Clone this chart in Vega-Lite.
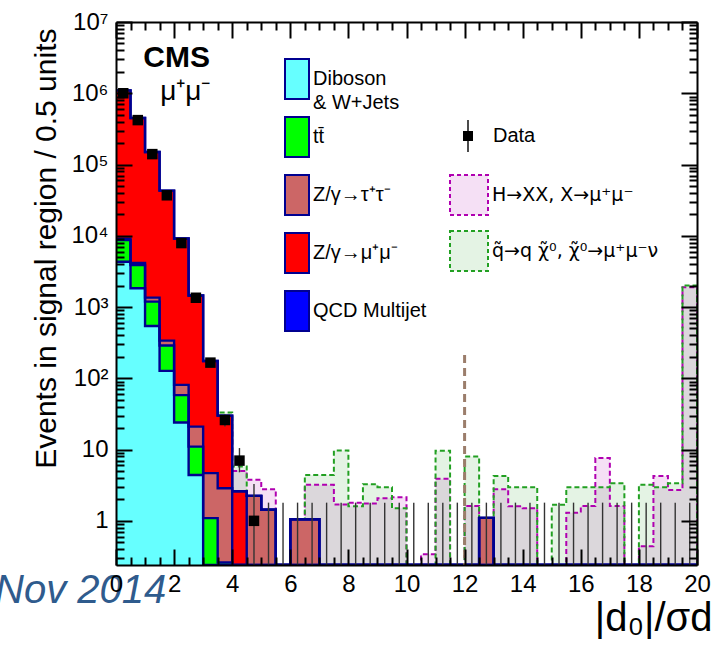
{
  "$schema": "https://vega.github.io/schema/vega-lite/v6.json",
  "width": 581,
  "height": 543,
  "autosize": {"type": "none"},
  "padding": {"left": 116, "top": 22, "right": 24, "bottom": 83},
  "background": "white",
  "config": {
    "font": "Liberation Sans",
    "view": {"stroke": null},
    "axis": {"zindex": 1, "grid": false, "tickColor": "black", "domainColor": "black", "labelColor": "black", "titleColor": "black"}
  },
  "title": {"text": "Nov 2014", "orient": "bottom", "anchor": "start", "frame": "group", "font": "Liberation Sans", "fontStyle": "italic", "fontWeight": "normal", "fontSize": 40, "color": "#2f5b8d", "dx": -121, "dy": -35, "baseline": "alphabetic", "offset": 0},
  "datasets": {
    "bins": [
      {"x": 0, "a_dib": 4330, "b_tt": 4370, "c_ztt": 400, "d_zmm": 1090000, "e_qcd": 0, "H": 0, "S": 0, "n": 1000000, "nlo": 999000, "nhi": 1001000},
      {"x": 0.5, "a_dib": 1840, "b_tt": 2060, "c_ztt": 250, "d_zmm": 446000, "e_qcd": 0, "H": 0, "S": 0, "n": 420000, "nlo": 419350, "nhi": 420650},
      {"x": 1, "a_dib": 543, "b_tt": 650, "c_ztt": 165, "d_zmm": 148600, "e_qcd": 0, "H": 0, "S": 0, "n": 140000, "nlo": 139630, "nhi": 140370},
      {"x": 1.5, "a_dib": 127, "b_tt": 161, "c_ztt": 50, "d_zmm": 42700, "e_qcd": 0, "H": 0, "S": 0, "n": 37000, "nlo": 36810, "nhi": 37190},
      {"x": 2, "a_dib": 24, "b_tt": 34, "c_ztt": 23, "d_zmm": 9100, "e_qcd": 0, "H": 0, "S": 0, "n": 7900, "nlo": 7810, "nhi": 7990},
      {"x": 2.5, "a_dib": 4.4, "b_tt": 6.6, "c_ztt": 10, "d_zmm": 1430, "e_qcd": 0, "H": 0, "S": 0, "n": 1350, "nlo": 1313, "nhi": 1387},
      {"x": 3, "a_dib": 0, "b_tt": 1.09, "c_ztt": 3.58, "d_zmm": 170, "e_qcd": 0, "H": 0, "S": 0, "n": 166, "nlo": 153, "nhi": 179},
      {"x": 3.5, "a_dib": 0, "b_tt": 0.26, "c_ztt": 2.61, "d_zmm": 27.1, "e_qcd": 0, "H": 20, "S": 33, "n": 26, "nlo": 21, "nhi": 31},
      {"x": 4, "a_dib": 0, "b_tt": 0, "c_ztt": 0, "d_zmm": 2.6, "e_qcd": 0, "H": 5, "S": 5.8, "n": 7, "nlo": 4.8, "nhi": 10.5},
      {"x": 4.5, "a_dib": 0, "b_tt": 0, "c_ztt": 2.24, "d_zmm": 0, "e_qcd": 0, "H": 3.76, "S": 1.6, "n": 1, "nlo": 0.17, "nhi": 3.3},
      {"x": 5, "a_dib": 0, "b_tt": 0, "c_ztt": 1.43, "d_zmm": 0, "e_qcd": 0, "H": 2.78, "S": 1.2, "n": 0, "nlo": 0, "nhi": 1.8},
      {"x": 5.5, "a_dib": 0, "b_tt": 0, "c_ztt": 0, "d_zmm": 0, "e_qcd": 0, "H": 0, "S": 0, "n": 0, "nlo": 0, "nhi": 1.8},
      {"x": 6, "a_dib": 0, "b_tt": 0, "c_ztt": 1.05, "d_zmm": 0, "e_qcd": 0, "H": 0.8, "S": 0.8, "n": 0, "nlo": 0, "nhi": 1.8},
      {"x": 6.5, "a_dib": 0, "b_tt": 0, "c_ztt": 1.05, "d_zmm": 0, "e_qcd": 0, "H": 3.2, "S": 4.4, "n": 0, "nlo": 0, "nhi": 1.8},
      {"x": 7, "a_dib": 0, "b_tt": 0, "c_ztt": 0, "d_zmm": 0, "e_qcd": 0, "H": 3.2, "S": 4.4, "n": 0, "nlo": 0, "nhi": 1.8},
      {"x": 7.5, "a_dib": 0, "b_tt": 0, "c_ztt": 0, "d_zmm": 0, "e_qcd": 0, "H": 1.7, "S": 9.7, "n": 0, "nlo": 0, "nhi": 1.8},
      {"x": 8, "a_dib": 0, "b_tt": 0, "c_ztt": 0, "d_zmm": 0, "e_qcd": 0, "H": 1.8, "S": 1.6, "n": 0, "nlo": 0, "nhi": 1.8},
      {"x": 8.5, "a_dib": 0, "b_tt": 0, "c_ztt": 0, "d_zmm": 0, "e_qcd": 0, "H": 1.75, "S": 3.27, "n": 0, "nlo": 0, "nhi": 1.8},
      {"x": 9, "a_dib": 0, "b_tt": 0, "c_ztt": 0, "d_zmm": 0, "e_qcd": 0, "H": 2.08, "S": 2.97, "n": 0, "nlo": 0, "nhi": 1.8},
      {"x": 9.5, "a_dib": 0, "b_tt": 0, "c_ztt": 0, "d_zmm": 0, "e_qcd": 0, "H": 2.15, "S": 1.5, "n": 0, "nlo": 0, "nhi": 1.8},
      {"x": 10, "a_dib": 0, "b_tt": 0, "c_ztt": 0, "d_zmm": 0, "e_qcd": 0, "H": 0, "S": 0, "n": 0, "nlo": 0, "nhi": 1.8},
      {"x": 10.5, "a_dib": 0, "b_tt": 0, "c_ztt": 0, "d_zmm": 0, "e_qcd": 0, "H": 0.34, "S": 0, "n": 0, "nlo": 0, "nhi": 1.8},
      {"x": 11, "a_dib": 0, "b_tt": 0, "c_ztt": 0, "d_zmm": 0, "e_qcd": 0, "H": 3.88, "S": 9.6, "n": 0, "nlo": 0, "nhi": 1.8},
      {"x": 11.5, "a_dib": 0, "b_tt": 0, "c_ztt": 0, "d_zmm": 0, "e_qcd": 0, "H": 0, "S": 0, "n": 0, "nlo": 0, "nhi": 1.8},
      {"x": 12, "a_dib": 0, "b_tt": 0, "c_ztt": 0, "d_zmm": 0, "e_qcd": 0, "H": 1.62, "S": 8.0, "n": 0, "nlo": 0, "nhi": 1.8},
      {"x": 12.5, "a_dib": 0, "b_tt": 0, "c_ztt": 1.1, "d_zmm": 0, "e_qcd": 0, "H": 0.9, "S": 0.9, "n": 0, "nlo": 0, "nhi": 1.8},
      {"x": 13, "a_dib": 0, "b_tt": 0, "c_ztt": 0, "d_zmm": 0, "e_qcd": 0, "H": 2.78, "S": 4.27, "n": 0, "nlo": 0, "nhi": 1.8},
      {"x": 13.5, "a_dib": 0, "b_tt": 0, "c_ztt": 0, "d_zmm": 0, "e_qcd": 0, "H": 1.6, "S": 2.97, "n": 0, "nlo": 0, "nhi": 1.8},
      {"x": 14, "a_dib": 0, "b_tt": 0, "c_ztt": 0, "d_zmm": 0, "e_qcd": 0, "H": 1.5, "S": 2.97, "n": 0, "nlo": 0, "nhi": 1.8},
      {"x": 14.5, "a_dib": 0, "b_tt": 0, "c_ztt": 0, "d_zmm": 0, "e_qcd": 0, "H": 0, "S": 0, "n": 0, "nlo": 0, "nhi": 1.8},
      {"x": 15, "a_dib": 0, "b_tt": 0, "c_ztt": 0, "d_zmm": 0, "e_qcd": 0, "H": 0, "S": 1.68, "n": 0, "nlo": 0, "nhi": 1.8},
      {"x": 15.5, "a_dib": 0, "b_tt": 0, "c_ztt": 0, "d_zmm": 0, "e_qcd": 0, "H": 1.3, "S": 2.97, "n": 0, "nlo": 0, "nhi": 1.8},
      {"x": 16, "a_dib": 0, "b_tt": 0, "c_ztt": 0, "d_zmm": 0, "e_qcd": 0, "H": 1.61, "S": 2.97, "n": 0, "nlo": 0, "nhi": 1.8},
      {"x": 16.5, "a_dib": 0, "b_tt": 0, "c_ztt": 0, "d_zmm": 0, "e_qcd": 0, "H": 7.6, "S": 2.97, "n": 0, "nlo": 0, "nhi": 1.8},
      {"x": 17, "a_dib": 0, "b_tt": 0, "c_ztt": 0, "d_zmm": 0, "e_qcd": 0, "H": 1.62, "S": 3.38, "n": 0, "nlo": 0, "nhi": 1.8},
      {"x": 17.5, "a_dib": 0, "b_tt": 0, "c_ztt": 0, "d_zmm": 0, "e_qcd": 0, "H": 0, "S": 0, "n": 0, "nlo": 0, "nhi": 1.8},
      {"x": 18, "a_dib": 0, "b_tt": 0, "c_ztt": 0, "d_zmm": 0, "e_qcd": 0, "H": 0.44, "S": 3.2, "n": 0, "nlo": 0, "nhi": 1.8},
      {"x": 18.5, "a_dib": 0, "b_tt": 0, "c_ztt": 0, "d_zmm": 0, "e_qcd": 0, "H": 4.27, "S": 2.97, "n": 0, "nlo": 0, "nhi": 1.8},
      {"x": 19, "a_dib": 0, "b_tt": 0, "c_ztt": 0, "d_zmm": 0, "e_qcd": 0, "H": 2.7, "S": 3.38, "n": 0, "nlo": 0, "nhi": 1.8},
      {"x": 19.5, "a_dib": 0, "b_tt": 0, "c_ztt": 0, "d_zmm": 0, "e_qcd": 0, "H": 1900, "S": 2000, "n": 0, "nlo": 0, "nhi": 1.8},
      {"x": 20, "a_dib": 0, "b_tt": 0, "c_ztt": 0, "d_zmm": 0, "e_qcd": 0, "H": 0, "S": 0, "n": 0, "nlo": 0, "nhi": 0}
    ],
    "cut": [{"cut": 12, "top": 213}],
    "one": [{"label": "anchor"}]
  },
  "layer": [
    {
      "data": {"name": "bins"},
      "mark": {"type": "area", "interpolate": "step-after", "clip": true, "fill": "#b000b0", "fillOpacity": 0.12, "invalid": null},
      "encoding": {
        "x": {"field": "x", "type": "quantitative", "scale": {"type": "linear", "domain": [0, 20], "nice": false, "zero": false},
              "axis": {"orient": "top", "values": [0, 2, 4, 6, 8, 10, 12, 14, 16, 18, 20], "tickSize": -16, "tickWidth": 2, "labels": false, "domain": true, "domainWidth": 2, "title": null, "zindex": 1}},
        "y": {"field": "H", "type": "quantitative", "stack": null, "scale": {"type": "log", "domain": [0.24, 10000000], "nice": false, "clamp": true},
              "axis": {"orient": "right", "values": [1, 10, 100, 1000, 10000, 100000, 1000000, 10000000], "tickSize": -16, "tickWidth": 2, "labels": false, "domain": true, "domainWidth": 2, "title": null, "zindex": 1}}
      }
    },
    {
      "data": {"name": "bins"},
      "mark": {"type": "area", "interpolate": "step-after", "clip": true, "fill": "#22a022", "fillOpacity": 0.12, "invalid": null},
      "encoding": {
        "x": {"field": "x", "type": "quantitative", "scale": {"type": "linear", "domain": [0, 20], "nice": false, "zero": false}, "axis": null},
        "y": {"field": "S", "type": "quantitative", "stack": null, "scale": {"type": "log", "domain": [0.24, 10000000], "nice": false, "clamp": true}, "axis": null}
      }
    },
    {
      "data": {"name": "bins"},
      "mark": {"type": "line", "interpolate": "step-after", "clip": true, "strokeWidth": 2, "strokeDash": [5, 3], "invalid": null},
      "encoding": {
        "x": {"field": "x", "type": "quantitative", "scale": {"type": "linear", "domain": [0, 20], "nice": false, "zero": false},
              "axis": {"orient": "top", "values": [0.5, 1, 1.5, 2.5, 3, 3.5, 4.5, 5, 5.5, 6.5, 7, 7.5, 8.5, 9, 9.5, 10.5, 11, 11.5, 12.5, 13, 13.5, 14.5, 15, 15.5, 16.5, 17, 17.5, 18.5, 19, 19.5], "tickSize": -8, "tickWidth": 2, "labels": false, "domain": false, "title": null, "zindex": 1}},
        "y": {"field": "H", "type": "quantitative", "stack": null, "scale": {"type": "log", "domain": [0.24, 10000000], "nice": false, "clamp": true},
              "axis": {"orient": "right", "values": [0.3, 0.4, 0.5, 0.6, 0.7, 0.8, 0.9, 2, 3, 4, 5, 6, 7, 8, 9, 20, 30, 40, 50, 60, 70, 80, 90, 200, 300, 400, 500, 600, 700, 800, 900, 2000, 3000, 4000, 5000, 6000, 7000, 8000, 9000, 20000, 30000, 40000, 50000, 60000, 70000, 80000, 90000, 200000, 300000, 400000, 500000, 600000, 700000, 800000, 900000, 2000000, 3000000, 4000000, 5000000, 6000000, 7000000, 8000000, 9000000], "tickSize": -8, "tickWidth": 2, "labels": false, "domain": false, "title": null, "zindex": 1}},
        "stroke": {"datum": "H→XX, X→μ⁺μ⁻", "scale": {"domain": ["H→XX, X→μ⁺μ⁻", "q̃→q χ̃⁰, χ̃⁰→μ⁺μ⁻ν"], "range": ["#b000b0", "#22a022"]},
                   "legend": {"title": null, "orient": "none", "legendX": 332, "legendY": 152, "symbolType": "M-0.95,-1H0.95V1H-0.95Z", "symbolSize": 1600, "symbolStrokeWidth": 2, "symbolDash": [4, 3], "labelFontSize": 19, "labelFont": "DejaVu Sans", "labelColor": "black", "labelOffset": 2, "rowPadding": 8, "labelLimit": 400, "padding": 0,
                              "encode": {"symbols": {"update": {"fill": {"scale": "stroke", "field": "value"}, "fillOpacity": {"value": 0.12}}}}}}
      }
    },
    {
      "data": {"name": "bins"},
      "mark": {"type": "line", "interpolate": "step-after", "clip": true, "strokeWidth": 2, "strokeDash": [5, 3], "invalid": null},
      "encoding": {
        "x": {"field": "x", "type": "quantitative", "scale": {"type": "linear", "domain": [0, 20], "nice": false, "zero": false}, "axis": null},
        "y": {"field": "S", "type": "quantitative", "stack": null, "scale": {"type": "log", "domain": [0.24, 10000000], "nice": false, "clamp": true}, "axis": null},
        "stroke": {"datum": "q̃→q χ̃⁰, χ̃⁰→μ⁺μ⁻ν", "scale": {"domain": ["H→XX, X→μ⁺μ⁻", "q̃→q χ̃⁰, χ̃⁰→μ⁺μ⁻ν"], "range": ["#b000b0", "#22a022"]}}
      }
    },
    {
      "data": {"name": "bins"},
      "transform": [
        {"fold": ["a_dib", "b_tt", "c_ztt", "d_zmm", "e_qcd"], "as": ["proc", "v"]},
        {"stack": "v", "groupby": ["x"], "sort": [{"field": "proc", "order": "ascending"}], "as": ["lo", "hi"]}
      ],
      "mark": {"type": "area", "interpolate": "step-after", "clip": true, "opacity": 1, "invalid": null},
      "encoding": {
        "x": {"field": "x", "type": "quantitative", "scale": {"type": "linear", "domain": [0, 20], "nice": false, "zero": false},
              "axis": {"orient": "bottom", "values": [0, 2, 4, 6, 8, 10, 12, 14, 16, 18, 20], "tickSize": -16, "tickWidth": 2, "domain": true, "domainWidth": 2, "labelFontSize": 24, "labelFont": "Liberation Sans", "labelPadding": 23, "labelFlush": false, "labelOverlap": false, "labelBound": false,
                       "title": "|d₀|/σd", "titleFont": "Liberation Sans", "titleFontSize": 40, "titleFontWeight": "normal", "titleAlign": "right", "titleAnchor": "end", "titleX": 596, "titleY": 65, "titleBaseline": "alphabetic", "zindex": 1}},
        "y": {"field": "hi", "type": "quantitative", "stack": null, "scale": {"type": "log", "domain": [0.24, 10000000], "nice": false, "clamp": true},
              "axis": {"orient": "left", "values": [1, 10, 100, 1000, 10000, 100000, 1000000, 10000000], "tickSize": -16, "tickWidth": 2, "domain": true, "domainWidth": 2, "labelFontSize": 24, "labelFont": "Liberation Sans", "labelPadding": 24, "labelFlush": false, "labelOverlap": false, "labelBound": false,
                       "labelExpr": "datum.value < 5 ? '1' : datum.value < 50 ? '10' : datum.value < 500 ? '10²' : datum.value < 5000 ? '10³' : datum.value < 50000 ? '10⁴' : datum.value < 500000 ? '10⁵' : datum.value < 5000000 ? '10⁶' : '10⁷'",
                       "title": "Events in signal region / 0.5 units", "titleFont": "Liberation Sans", "titleFontSize": 30, "titleFontWeight": "normal", "titleAngle": 270, "titleAlign": "right", "titleX": -61, "titleY": 6, "titleBaseline": "alphabetic", "zindex": 1}},
        "y2": {"field": "lo"},
        "fill": {"field": "proc", "type": "nominal",
                 "scale": {"domain": ["a_dib", "b_tt", "c_ztt", "d_zmm", "e_qcd"], "range": ["#66ffff", "#00ff00", "#cc6666", "#ff0000", "#0000ff"]},
                 "legend": {"title": null, "orient": "none", "legendX": 160, "legendY": 36, "symbolType": "M-0.6,-1H0.6V1H-0.6Z", "symbolSize": 1600, "symbolStrokeColor": "#000090", "symbolStrokeWidth": 2, "symbolOpacity": 1, "labelFontSize": 20, "labelFont": "Liberation Sans", "labelColor": "black", "labelOffset": -5, "rowPadding": 0, "gridAlign": "all", "labelLimit": 400, "padding": 0,
                            "labelExpr": "datum.value == 'a_dib' ? ['Diboson', '& W+Jets'] : datum.value == 'b_tt' ? 'tt̄' : datum.value == 'c_ztt' ? 'Z/γ→τ⁺τ⁻' : datum.value == 'd_zmm' ? 'Z/γ→μ⁺μ⁻' : 'QCD Multijet'",
                            "encode": {"labels": {"update": {"lineHeight": {"value": 24}}}}}}
      }
    },
    {
      "data": {"name": "bins"},
      "transform": [
        {"fold": ["a_dib", "b_tt", "c_ztt", "d_zmm", "e_qcd"], "as": ["proc", "v"]},
        {"stack": "v", "groupby": ["x"], "sort": [{"field": "proc", "order": "ascending"}], "as": ["lo", "hi"]}
      ],
      "mark": {"type": "line", "interpolate": "step-after", "clip": true, "stroke": "#000090", "strokeWidth": 2.4, "invalid": null},
      "encoding": {
        "x": {"field": "x", "type": "quantitative", "scale": {"type": "linear", "domain": [0, 20], "nice": false, "zero": false},
              "axis": {"orient": "bottom", "values": [0.5, 1, 1.5, 2.5, 3, 3.5, 4.5, 5, 5.5, 6.5, 7, 7.5, 8.5, 9, 9.5, 10.5, 11, 11.5, 12.5, 13, 13.5, 14.5, 15, 15.5, 16.5, 17, 17.5, 18.5, 19, 19.5], "tickSize": -8, "tickWidth": 2, "labels": false, "domain": false, "title": null, "zindex": 1}},
        "y": {"field": "hi", "type": "quantitative", "stack": null, "scale": {"type": "log", "domain": [0.24, 10000000], "nice": false, "clamp": true},
              "axis": {"orient": "left", "values": [0.3, 0.4, 0.5, 0.6, 0.7, 0.8, 0.9, 2, 3, 4, 5, 6, 7, 8, 9, 20, 30, 40, 50, 60, 70, 80, 90, 200, 300, 400, 500, 600, 700, 800, 900, 2000, 3000, 4000, 5000, 6000, 7000, 8000, 9000, 20000, 30000, 40000, 50000, 60000, 70000, 80000, 90000, 200000, 300000, 400000, 500000, 600000, 700000, 800000, 900000, 2000000, 3000000, 4000000, 5000000, 6000000, 7000000, 8000000, 9000000], "tickSize": -8, "tickWidth": 2, "labels": false, "domain": false, "title": null, "zindex": 1}},
        "detail": {"field": "proc", "type": "nominal"}
      }
    },
    {
      "data": {"name": "cut"},
      "mark": {"type": "rule", "stroke": "#9b7d6b", "strokeWidth": 3, "strokeDash": [8, 5], "clip": true, "invalid": null},
      "encoding": {
        "x": {"field": "cut", "type": "quantitative", "scale": {"type": "linear", "domain": [0, 20], "nice": false, "zero": false}, "axis": null},
        "y": {"field": "top", "type": "quantitative", "scale": {"type": "log", "domain": [0.24, 10000000], "nice": false, "clamp": true}, "axis": null},
        "y2": {"datum": 0.01}
      }
    },
    {
      "data": {"name": "bins"},
      "transform": [{"filter": "datum.nhi > 0"}, {"calculate": "datum.x + 0.25", "as": "xc"}],
      "mark": {"type": "rule", "stroke": "#333333", "strokeWidth": 1.4, "clip": true, "invalid": null},
      "encoding": {
        "x": {"field": "xc", "type": "quantitative", "scale": {"type": "linear", "domain": [0, 20], "nice": false, "zero": false}, "axis": null},
        "y": {"field": "nlo", "type": "quantitative", "scale": {"type": "log", "domain": [0.24, 10000000], "nice": false, "clamp": true}, "axis": null},
        "y2": {"field": "nhi"}
      }
    },
    {
      "data": {"name": "bins"},
      "transform": [{"filter": "datum.n > 0"}, {"calculate": "datum.x + 0.25", "as": "xc"}],
      "mark": {"type": "point", "filled": true, "shape": "square", "color": "black", "size": 110},
      "encoding": {
        "x": {"field": "xc", "type": "quantitative", "scale": {"type": "linear", "domain": [0, 20], "nice": false, "zero": false}, "axis": null},
        "y": {"field": "n", "type": "quantitative", "scale": {"type": "log", "domain": [0.24, 10000000], "nice": false, "clamp": true}, "axis": null},
        "opacity": {"datum": "Data", "type": "nominal", "scale": {"domain": ["Data"], "range": [1]},
                  "legend": {"title": null, "orient": "none", "legendX": 342, "legendY": 104, "symbolType": "M-0.5,-0.5H0.5V0.5H-0.5Z M-0.07,-1.6H0.07V1.6H-0.07Z", "symbolSize": 400, "symbolFillColor": "black", "symbolStrokeColor": "black", "symbolStrokeWidth": 0, "labelFontSize": 20, "labelFont": "Liberation Sans", "labelColor": "black", "labelOffset": 15, "padding": 0}}
      }
    },
    {
      "data": {"name": "one"},
      "mark": {"type": "text", "text": "CMS", "font": "Liberation Sans", "fontWeight": "bold", "fontSize": 30, "align": "left", "baseline": "alphabetic", "color": "black"},
      "encoding": {
        "x": {"datum": 0.94, "type": "quantitative", "scale": {"type": "linear", "domain": [0, 20], "nice": false, "zero": false}, "axis": null},
        "y": {"datum": 2350000, "type": "quantitative", "scale": {"type": "log", "domain": [0.24, 10000000], "nice": false, "clamp": true}, "axis": null}
      }
    },
    {
      "data": {"name": "one"},
      "mark": {"type": "text", "text": "μ⁺μ⁻", "font": "Liberation Sans", "fontSize": 28, "align": "left", "baseline": "alphabetic", "color": "black"},
      "encoding": {
        "x": {"datum": 1.52, "type": "quantitative", "scale": {"type": "linear", "domain": [0, 20], "nice": false, "zero": false}, "axis": null},
        "y": {"datum": 800000, "type": "quantitative", "scale": {"type": "log", "domain": [0.24, 10000000], "nice": false, "clamp": true}, "axis": null}
      }
    }
  ],
  "resolve": {"axis": {"x": "independent", "y": "independent"}}
}
